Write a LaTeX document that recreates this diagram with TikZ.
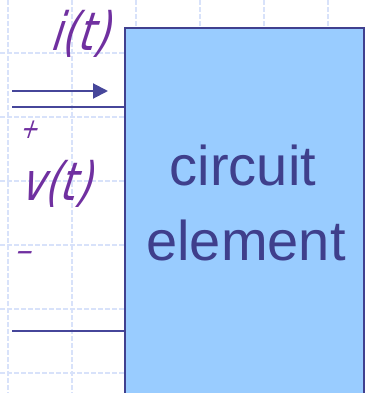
\documentclass[tikz,border=0pt]{standalone}
\usepackage{fontspec}
\setmainfont{Liberation Sans}
\newfontfamily\labfont{DejaVu Sans Condensed}[FakeSlant=0.32,FakeStretch=0.85]
\usetikzlibrary{arrows.meta}
\definecolor{gridc}{HTML}{D8E2FA}
\definecolor{boxfill}{HTML}{99CCFF}
\definecolor{boxline}{HTML}{40408F}
\definecolor{wirec}{HTML}{46469A}
\definecolor{labc}{HTML}{7030A0}
\definecolor{txtc}{HTML}{3F3F8C}
\tikzset{
  gridline/.style={draw=gridc, line width=1.3pt, dash pattern=on 5pt off 2pt},
  elbox/.style={draw=boxline, fill=boxfill, line width=2.2pt, anchor=north west, inner sep=0pt},
  eltext/.style={text=txtc, font=\fontsize{56}{60}\selectfont, anchor=base, inner sep=0pt},
  wire/.style={draw=wirec, line width=2pt},
  varlab/.style={text=labc, font=\labfont\fontsize{53}{55}\selectfont, anchor=base west, inner sep=0pt},
  signlab/.style={text=labc, font=\labfont\fontsize{28}{28}\selectfont, anchor=base west, inner sep=0pt}
}
\begin{document}
\begin{tikzpicture}[x=1pt,y=-1pt]
\useasboundingbox (0,0) rectangle (365,393);
\clip (0,0) rectangle (365,393);
\foreach \x in {8,72,136,200,264,328} \draw[gridline] (\x,0) -- (\x,393);
\foreach \y in {53,117,181,245,309,373} \draw[gridline] (0,\y) -- (365,\y);
\node[elbox, minimum width=239pt, minimum height=400pt] (el) at (124,27) {};
\node[eltext] (t1) at (243,185) {circuit};
\node[eltext] (t2) at (246,260) {element};
\coordinate (a1) at (12,107);
\coordinate (b1) at (12,331);
\draw[wire] (a1) -- (a1 -| el.west);
\draw[wire] (b1) -- (b1 -| el.west);
\coordinate (i1) at (12,91);
\coordinate (i2) at (108,91);
\draw[wire, -{Triangle[length=15pt,width=15pt]}] (i1) -- (i2);
\node[varlab] (il) at (49,51) {i(t)};
\node[varlab] (vl) at (19,200) {v(t)};
\node[signlab] (plus) at (19,138) {+};
\node[signlab] (minus) at (13,261) {−};
\end{tikzpicture}
\end{document}
